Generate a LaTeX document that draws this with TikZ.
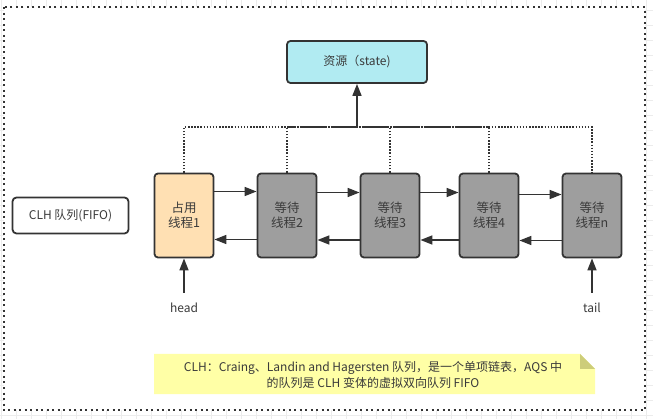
\documentclass[tikz,border=0pt]{standalone}
\usepackage{fontspec}
\setmainfont{Noto Sans CJK SC}
\usetikzlibrary{arrows.meta}
\definecolor{ink}{HTML}{333333}
\definecolor{txt}{HTML}{3A3A3A}
\definecolor{cyanfill}{HTML}{B1EBF2}
\definecolor{peach}{HTML}{FFE0B3}
\definecolor{grayfill}{HTML}{9E9E9E}
\definecolor{notefill}{HTML}{FFFFA6}
\definecolor{notefold}{HTML}{CDCD7A}
\definecolor{gridc}{HTML}{ECECEC}
\begin{document}
\begin{tikzpicture}[x=1pt,y=-1pt,
  boxbase/.style={draw=ink, line width=1.8pt, rounded corners=3.5pt, text=txt, align=center, inner sep=0pt},
  thread/.style={boxbase, minimum width=59pt, minimum height=84pt, font=\fontsize{12.5}{15}\selectfont},
  arr/.style={draw=ink, line width=1.6pt, -{Triangle[length=12pt,width=9pt]}},
  dotline/.style={draw=ink, line width=1.5pt, dash pattern=on 1.5pt off 1.6pt},
  lbl/.style={text=txt, font=\fontsize{12}{14}\selectfont, inner sep=0pt}
]
\useasboundingbox (0,0) rectangle (653,419);
% background grid outside the frame
\foreach \gx in {1,16,...,646} { \draw[gridc, line width=0.7pt] (\gx,0) -- (\gx,419); }
\foreach \gy in {10,25,...,415} { \draw[gridc, line width=0.7pt] (0,\gy) -- (653,\gy); }
\fill[white] (3.7,7.5) rectangle (645,410);
\draw[ink, line width=2pt, dash pattern=on 2pt off 3.5pt] (3.7,7.5) rectangle (645,410);

% resource
\node[boxbase, fill=cyanfill, minimum width=140pt, minimum height=42pt, font=\fontsize{12}{14}\selectfont] (res) at (357,62) {资源（state)};

% queue label
\node[boxbase, fill=white, minimum width=116pt, minimum height=36pt, rounded corners=4pt, font=\fontsize{12}{14}\selectfont] (clh) at (70.5,215.5) {CLH 队列(FIFO)};

% threads
\node[thread, fill=peach] (t1) at (184,215.5) {占用\\线程1};
\node[thread, fill=grayfill] (t2) at (287,215.5) {等待\\线程2};
\node[thread, fill=grayfill] (t3) at (390,215.5) {等待\\线程3};
\node[thread, fill=grayfill] (t4) at (489,215.5) {等待\\线程4};
\node[thread, fill=grayfill] (tn) at (592,215.5) {等待\\线程n};

% forward links
\draw[arr] ([yshift=24pt]t1.east) -- ([yshift=24pt]t2.west);
\draw[arr] ([yshift=23pt]t2.east) -- ([yshift=23pt]t3.west);
\draw[arr] ([yshift=23pt]t3.east) -- ([yshift=23pt]t4.west);
\draw[arr] ([yshift=21pt]t4.east) -- ([yshift=21pt]tn.west);
% backward links
\draw[arr] ([yshift=-24pt]t2.west) -- ([yshift=-24pt]t1.east);
\draw[arr] ([yshift=-24.5pt]t3.west) -- ([yshift=-24.5pt]t2.east);
\draw[arr] ([yshift=-24.5pt]t4.west) -- ([yshift=-24.5pt]t3.east);
\draw[arr] ([yshift=-25pt]tn.west) -- ([yshift=-25pt]t4.east);

% bus to resource
\coordinate (bus) at (357,127);
\path[dotline] (t1.north) -- (t1.north |- bus) -- (tn.north |- bus) -- (tn.north);
\path[dotline] (t2.north) -- (t2.north |- bus);
\path[dotline] (t3.north) -- (t3.north |- bus);
\path[dotline] (t4.north) -- (t4.north |- bus);
\path[dotline, dash phase=1.5pt] (t2.north |- bus) -- (t4.north |- bus);
\draw[arr] (bus) -- (res.south);

% head / tail
\node[lbl] (head) at (184,308) {head};
\node[lbl] (tail) at (592,308) {tail};
\coordinate (headend) at (184,293);
\coordinate (tailend) at (592,293);
\draw[arr] (headend) -- (t1.south);
\draw[arr] (tailend) -- (tn.south);

% note
\fill[notefill] (154,354) -- (580,354) -- (595,369) -- (595,394) -- (154,394) -- cycle;
\fill[notefold] (580,354) -- (595,369) -- (580,369) -- cycle;
\node[lbl, align=center, font=\fontsize{12}{16}\selectfont] (note) at (373,374.5) {CLH：Craing、Landin and Hagersten 队列，是一个单项链表，AQS 中\\的队列是 CLH 变体的虚拟双向队列 FIFO};
\end{tikzpicture}
\end{document}
